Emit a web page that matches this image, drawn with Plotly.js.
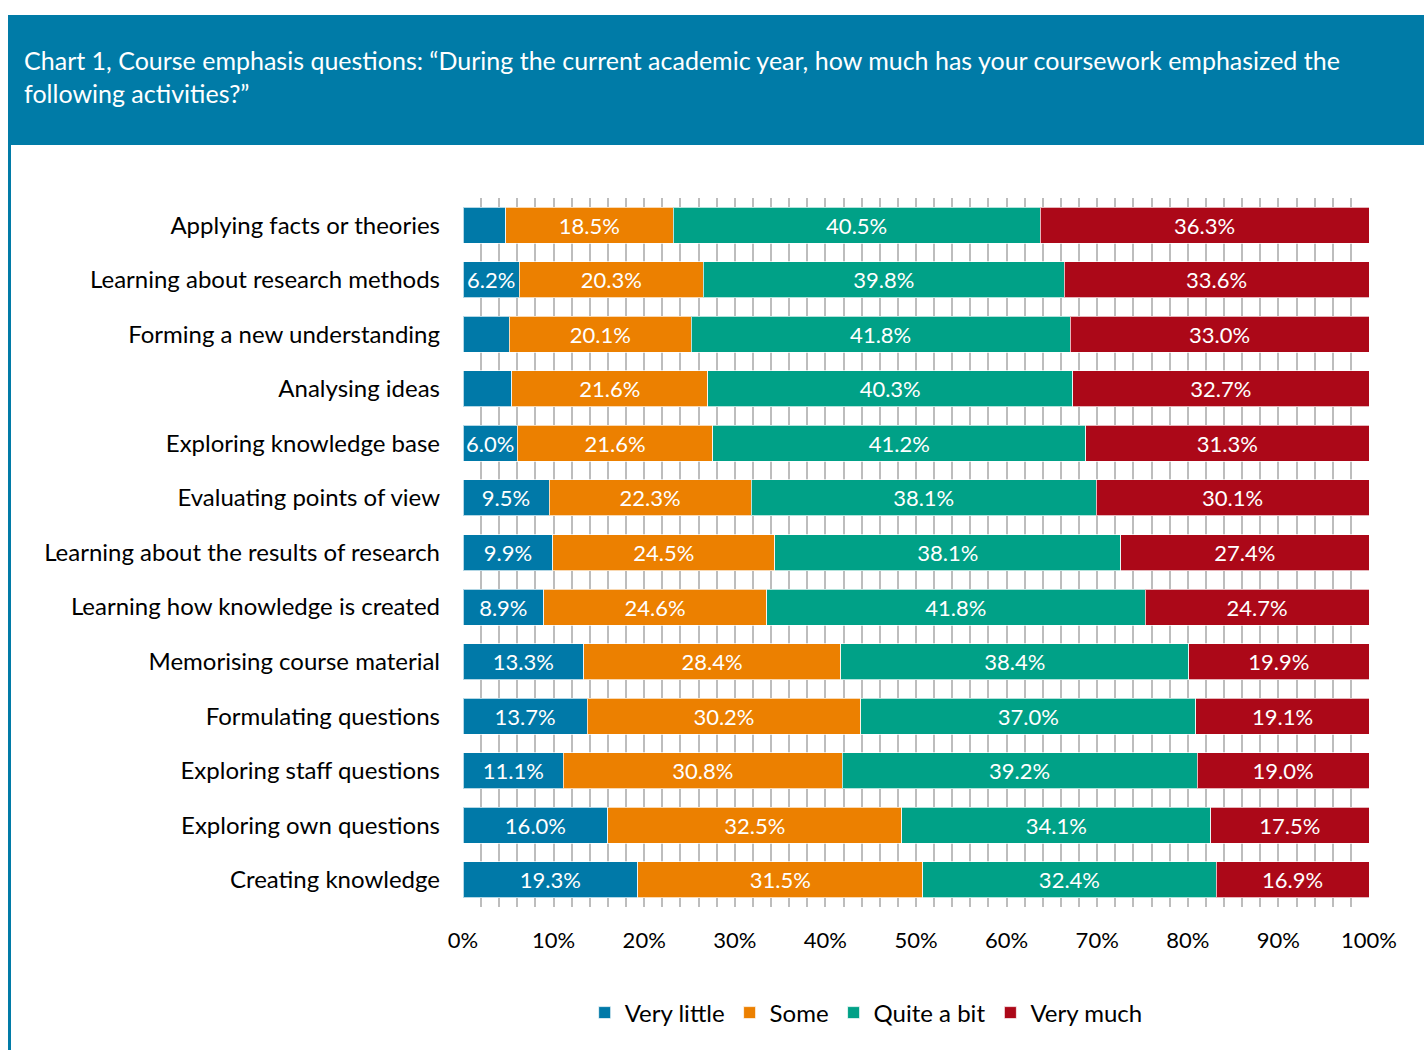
<!DOCTYPE html>
<html>
<head>
<meta charset="utf-8">
<script src="https://cdn.plot.ly/plotly-3.0.1.min.js"></script>
<style>
  body { margin: 0; background: #fff; }
  #chart { width: 1424px; height: 1050px; }
</style>
</head>
<body>
<div id="chart"></div>
<script>
var chart = document.getElementById('chart');

var activities = [
    "Applying facts or theories",
    "Learning about research methods",
    "Forming a new understanding",
    "Analysing ideas",
    "Exploring knowledge base",
    "Evaluating points of view",
    "Learning about the results of research",
    "Learning how knowledge is created",
    "Memorising course material",
    "Formulating questions",
    "Exploring staff questions",
    "Exploring own questions",
    "Creating knowledge"
];

var very_little = [4.7, 6.2, 5.1, 5.4, 6.0, 9.5, 9.9, 8.9, 13.3, 13.7, 11.1, 16.0, 19.3];
var some        = [18.5, 20.3, 20.1, 21.6, 21.6, 22.3, 24.5, 24.6, 28.4, 30.2, 30.8, 32.5, 31.5];
var quite_a_bit = [40.5, 39.8, 41.8, 40.3, 41.2, 38.1, 38.1, 41.8, 38.4, 37.0, 39.2, 34.1, 32.4];
var very_much   = [36.3, 33.6, 33.0, 32.7, 31.3, 30.1, 27.4, 24.7, 19.9, 19.1, 19.0, 17.5, 16.9];

var series_names = ["Very little", "Some", "Quite a bit", "Very much"];
var series_colors = ['#0079a8', '#ec8000', '#00a187', '#ac0818'];

// small slices in the original have no label
function labels(vals) {
    return vals.map(function(v) { return v < 5.5 ? '' : v.toFixed(1) + '%'; });
}

var font = 'Lato, "Open Sans", sans-serif';

var data = [very_little, some, quite_a_bit, very_much].map(function(vals, i) {
    return {
        type: 'bar',
        orientation: 'h',
        y: activities,
        x: vals,
        name: series_names[i],
        text: labels(vals),
        textposition: 'inside',
        insidetextanchor: 'middle',
        textangle: 0,
        textfont: {color: '#ffffff', size: 22, family: font},
        hoverinfo: 'none',
        marker: {
            color: series_colors[i],
            line: {color: 'rgba(255,255,255,0.7)', width: 1}
        }
    };
});

var layout = {
    width: 1424,
    height: 1050,
    margin: {l: 463, r: 55, t: 198, b: 143},
    paper_bgcolor: '#ffffff',
    plot_bgcolor: '#ffffff',
    font: {family: font, size: 22, color: '#000000'},
    title: {
        text: 'Chart 1, Course emphasis questions: \u201cDuring the current academic year, how much has your coursework emphasized the<br>following activities?\u201d',
        font: {family: font, size: 25, color: '#ffffff'},
        xref: 'container', yref: 'container',
        x: 0.0169, xanchor: 'left',
        y: 0.933, yanchor: 'top'
    },
    barmode: 'stack',
    barnorm: 'percent',
    bargap: 0.34,
    xaxis: {
        range: [0, 100],
        dtick: 10,
        ticksuffix: '%',
        showgrid: true,
        gridcolor: '#bdbdbd',
        gridwidth: 2,
        minor: {dtick: 2, showgrid: true, gridcolor: '#bdbdbd', gridwidth: 2},
        zeroline: false,
        showline: false,
        ticks: '',
        ticklabelstandoff: 18,
        tickfont: {size: 22},
        fixedrange: true
    },
    yaxis: {
        autorange: 'reversed',
        showgrid: false,
        showline: false,
        ticks: '',
        ticklabelstandoff: 22,
        tickfont: {size: 24},
        fixedrange: true
    },
    showlegend: true,
    legend: {
        orientation: 'h',
        traceorder: 'normal',
        x: 0.445, xanchor: 'center',
        y: -0.1495, yanchor: 'middle',
        font: {family: font, size: 24},
        itemwidth: 30
    },
    shapes: [
        {   // header band
            type: 'rect', xref: 'paper', yref: 'paper',
            x0: -0.5022, x1: 1.0607, y0: 1.0748, y1: 1.258,
            fillcolor: '#007ba7', line: {width: 0}, layer: 'below'
        },
        {   // left border
            type: 'rect', xref: 'paper', yref: 'paper',
            x0: -0.5022, x1: -0.4989, y0: -0.2017, y1: 1.0748,
            fillcolor: '#007ba7', line: {width: 0}, layer: 'below'
        }
    ]
};

Plotly.newPlot(chart, data, layout, {displayModeBar: false, staticPlot: true});
</script>
</body>
</html>
